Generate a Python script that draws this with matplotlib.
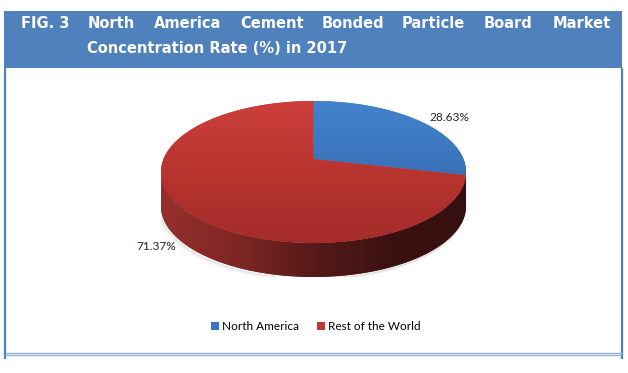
import numpy as np
import matplotlib.pyplot as plt
from matplotlib.patches import Rectangle, Polygon
from matplotlib.colors import LinearSegmentedColormap
from matplotlib.transforms import Transform
from matplotlib.path import Path

labels = ['North America', 'Rest of the World']
shares = [28.63, 71.37]
colors = ['#3a74bd', '#bf3836']
pct_labels = ['28.63%', '71.37%']
title_line1 = ['FIG. 3', 'North', 'America', 'Cement', 'Bonded', 'Particle', 'Board', 'Market']
title_line2 = 'Concentration Rate (%) in 2017'

W, H = 628, 373
fig = plt.figure(figsize=(W / 100, H / 100), dpi=100)
bg = fig.add_axes([0, 0, 1, 1])
bg.set_xlim(0, W)
bg.set_ylim(H, 0)
bg.axis('off')

# header band and frame
bg.add_patch(Rectangle((4, 11), 618, 57, color='#4f81bd', lw=0))
bg.plot([5, 5], [68, 359], color='#4f81bd', lw=1.6, solid_capstyle='butt')
bg.plot([622, 622], [68, 359], color='#4f81bd', lw=1.6, solid_capstyle='butt')
bg.plot([6, 621], [352.7, 352.7], color='#95b3d7', lw=1.0)
bg.plot([6, 621], [355.3, 355.3], color='#95b3d7', lw=1.0)

word_x = [21, 88, 154, 240, 322, 402, 484, 553]
for wx, w in zip(word_x, title_line1):
    bg.text(wx, 28, w, ha='left', va='baseline', color='white',
            fontsize=10.5, fontweight='bold', family='DejaVu Sans')
bg.text(87, 53, title_line2, ha='left', va='baseline', color='white',
        fontsize=10.5, fontweight='bold', family='DejaVu Sans')


class Persp(Transform):
    """Simple perspective tilt for the pie's top face."""
    input_dims = output_dims = 2
    is_separable = False
    has_inverse = False

    def __init__(self, a):
        super().__init__()
        self.a = a

    def transform_non_affine(self, v):
        v = np.asarray(v, float)
        den = 1 + self.a * v[:, 1]
        return np.column_stack([v[:, 0] / den, v[:, 1] / den])

    def transform_path_non_affine(self, path):
        pts = []
        for seg, code in path.iter_bezier():
            if seg.degree == 0:
                pts.append(seg.control_points[:1])
            elif seg.degree == 1:
                pts.append(seg.control_points)
            else:
                pts.append(seg(np.linspace(0, 1, 40)))
        verts = np.concatenate(pts)
        return Path(self.transform_non_affine(verts), closed=True)


a = 0.183
persp = Persp(a)
xmax = 1 / np.sqrt(1 - a ** 2)
ytop = 1 / (1 + a)
ybot = -1 / (1 - a)
ry_px, rx_px, cx_px, cy_px, depth_px = 68.6, 150.0, 313.5, 159.0, 34.0
d = depth_px / ry_px

top_px = cy_px - ry_px * ytop
bot_px = cy_px - ry_px * (ybot - d)
pax = fig.add_axes([(cx_px - rx_px * xmax) / W, (H - bot_px) / H,
                    2 * rx_px * xmax / W, (bot_px - top_px) / H])

# silhouette / side wall geometry
tl = np.pi + np.arcsin(a)
tr = 2 * np.pi - np.arcsin(a)
t_front = np.linspace(tl, tr, 300)
front = persp.transform(np.column_stack([np.cos(t_front), np.sin(t_front)]))
side = np.concatenate([front, front[::-1] - [0, d]])
t_lower = np.linspace(np.pi * 0.9, 2.1 * np.pi, 300)
lower = persp.transform(np.column_stack([np.cos(t_lower), np.sin(t_lower)])) - [0, d]

# soft shadow under the lower-left rim
for k, al in enumerate([0.12, 0.07, 0.035]):
    off = np.array([-(1.0 + k) / rx_px, -(1.5 + k) / ry_px])
    pax.plot(lower[:, 0] + off[0], lower[:, 1] + off[1], color='#707070',
             alpha=al, lw=1.5, zorder=0.5, solid_capstyle='round')

poly = Polygon(side, closed=True, fc='#6a1f1e', ec='none', zorder=1)
pax.add_patch(poly)
side_cmap = LinearSegmentedColormap.from_list('side', ['#96302d', '#7e2624', '#551a19', '#3c1111', '#351010'])
grad_h = np.linspace(0, 1, 256).reshape(1, -1)
im = pax.imshow(grad_h, cmap=side_cmap, extent=(-xmax, xmax, ybot - d, 0), aspect='auto', zorder=1.5)
im.set_clip_path(poly)

wedges, _ = pax.pie(shares, colors=colors, startangle=90, counterclock=False,
                    radius=1, wedgeprops=dict(lw=0))
top_cmaps = [LinearSegmentedColormap.from_list('b', ['#4282cc', '#3a72b9', '#2f63a4']),
             LinearSegmentedColormap.from_list('r', ['#cc3f3c', '#b8342f', '#a32c2b'])]
grad_v = np.linspace(0, 1, 256).reshape(-1, 1)
for w, cm in zip(wedges, top_cmaps):
    w.set_transform(persp + pax.transData)
    w.set_zorder(2)
    g = pax.imshow(grad_v, cmap=cm, extent=(-xmax, xmax, ybot, ytop), aspect='auto', zorder=2.5)
    g.set_clip_path(w)

pax.set_aspect('auto')
pax.set_xlim(-xmax, xmax)
pax.set_ylim(ybot - d, ytop)
pax.axis('off')

# percentage labels
bg.text(429, 121, pct_labels[0], ha='left', va='baseline', fontsize=8.6, family='Lato', color='#1f2530')
bg.text(136, 250, pct_labels[1], ha='left', va='baseline', fontsize=8.6, family='Lato', color='#1f2530')

fig.legend(wedges, labels, loc='center', bbox_to_anchor=(315.5 / W, 1 - 326.5 / H), ncol=2,
           frameon=False, prop=dict(family='Lato', size=8.5), handlelength=0.68, handleheight=0.6,
           handletextpad=0.25, columnspacing=1.5, borderpad=0)

fig.savefig('out.png', dpi=100)
